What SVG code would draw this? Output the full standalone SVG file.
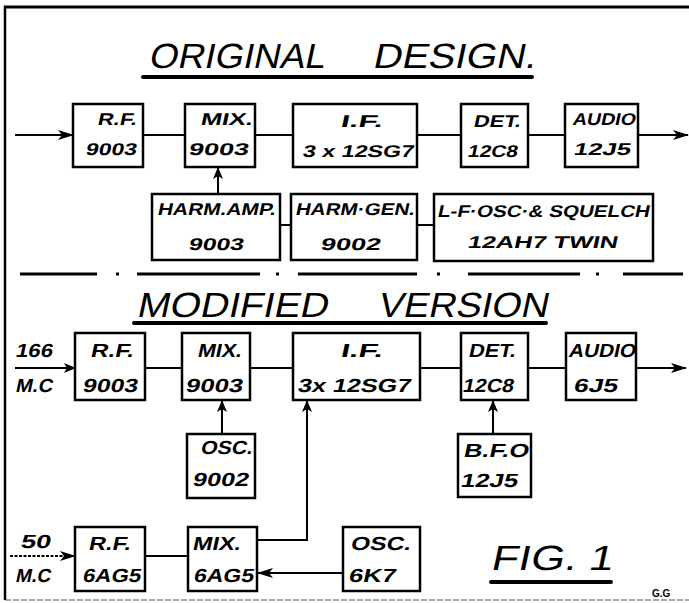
<svg xmlns="http://www.w3.org/2000/svg" width="689" height="603" viewBox="0 0 689 603">
<defs>
<marker id="ah" viewBox="0 0 16 10" refX="15" refY="5" markerWidth="16" markerHeight="10" markerUnits="userSpaceOnUse" orient="auto">
<path d="M0,0 L16,5 L0,10 L4,5 Z" fill="#000"/>
</marker>
<marker id="ahs" viewBox="0 0 12 10" refX="11" refY="5" markerWidth="12" markerHeight="10" markerUnits="userSpaceOnUse" orient="auto">
<path d="M0,0 L12,5 L0,10 L3,5 Z" fill="#000"/>
</marker>
<style>
.box{fill:#fff;stroke:#000;stroke-width:2.5}
.t{font-family:"Liberation Sans",Arial,sans-serif;font-weight:bold;font-size:17px;fill:#000}
.m{font-size:19px}
.title{font-family:"Liberation Sans",Arial,sans-serif;font-size:35px;fill:#000}
.c{fill:none;stroke:#000;stroke-width:2}
.a{marker-end:url(#ah)}
.as{marker-end:url(#ahs)}
.ul{stroke:#000;stroke-width:4;stroke-linecap:round}
.dd{stroke:#000;stroke-width:3}
</style>
</defs>
<rect x="0" y="0" width="689" height="603" fill="#fff"/>
<g id="frame">
<line x1="4" y1="7" x2="689" y2="7" stroke="#000" stroke-width="3"/>
<line x1="5" y1="6" x2="5" y2="600" stroke="#000" stroke-width="2.5"/>
<line x1="5" y1="600" x2="689" y2="600" stroke="#555" stroke-width="1.2" stroke-dasharray="6,2"/>
</g>
<g id="title1">
<text class="title" transform="translate(148 68) skewX(-12)" textLength="176" lengthAdjust="spacingAndGlyphs">ORIGINAL</text>
<text class="title" transform="translate(372 68) skewX(-12)" textLength="163" lengthAdjust="spacingAndGlyphs">DESIGN.</text>
<line class="ul" x1="143" y1="77" x2="532" y2="77"/>
</g>
<g id="divider">
<line class="dd" x1="20" y1="274" x2="97" y2="274"/>
<line class="dd" x1="116" y1="274" x2="119" y2="274"/>
<line class="dd" x1="137" y1="274" x2="260" y2="274"/>
<line class="dd" x1="276" y1="274" x2="279" y2="274"/>
<line class="dd" x1="298" y1="274" x2="417" y2="274"/>
<line class="dd" x1="437" y1="274" x2="440" y2="274"/>
<line class="dd" x1="468" y1="274" x2="580" y2="274"/>
<line class="dd" x1="596" y1="274" x2="599" y2="274"/>
<line class="dd" x1="623" y1="274" x2="683" y2="274"/>
</g>
<g id="title2">
<text class="title" font-size="37" transform="translate(136 317) skewX(-12)" textLength="191" lengthAdjust="spacingAndGlyphs">MODIFIED</text>
<text class="title" font-size="37" transform="translate(377 317) skewX(-12)" textLength="170" lengthAdjust="spacingAndGlyphs">VERSION</text>
<line class="ul" x1="134" y1="323" x2="546" y2="323"/>
</g>
<g id="fig">
<text class="title" font-size="36" transform="translate(490 570) skewX(-12)" textLength="122" lengthAdjust="spacingAndGlyphs">FIG. 1</text>
<line class="ul" x1="491" y1="582" x2="611" y2="582"/>
<text x="652" y="597" font-family="Liberation Sans,Arial,sans-serif" font-weight="bold" font-size="10">G.G</text>
</g>
<g id="connectors">
<line class="c a" x1="15" y1="135" x2="73" y2="135"/>
<line class="c" x1="143" y1="135" x2="185" y2="135"/>
<line class="c" x1="255" y1="135" x2="293" y2="135"/>
<line class="c" x1="417" y1="135" x2="461" y2="135"/>
<line class="c" x1="528" y1="135" x2="565" y2="135"/>
<line class="c a" x1="638" y1="135" x2="688" y2="135"/>
<line class="c as" x1="218" y1="194" x2="218" y2="168"/>
<line class="c" x1="280" y1="225" x2="291" y2="225"/>
<line class="c" x1="417" y1="225" x2="434" y2="225"/>
<line class="c as" x1="15" y1="368" x2="75" y2="368"/>
<line class="c" x1="145" y1="368" x2="182" y2="368"/>
<line class="c" x1="250" y1="368" x2="293" y2="368"/>
<line class="c" x1="420" y1="368" x2="461" y2="368"/>
<line class="c" x1="528" y1="368" x2="566" y2="368"/>
<line class="c a" x1="636" y1="368" x2="686" y2="368"/>
<line class="c as" x1="222" y1="434" x2="222" y2="401"/>
<line class="c as" x1="493" y1="434" x2="493" y2="401"/>
<polyline class="c as" points="257,540 307,540 307,401"/>
<line class="c" x1="145" y1="556" x2="188" y2="556"/>
<line class="c a" x1="10" y1="556" x2="75" y2="556" stroke-dasharray="3,1.5"/>
<line class="c a" x1="343" y1="573" x2="258" y2="573"/>
</g>
<g id="o_rf"><rect class="box" x="73" y="104" width="70" height="63"/>
<text class="t" transform="translate(97 125) skewX(-12)" textLength="39" lengthAdjust="spacingAndGlyphs">R.F.</text>
<text class="t" transform="translate(85 155) skewX(-12)" textLength="51" lengthAdjust="spacingAndGlyphs">9003</text></g>
<g id="o_mix"><rect class="box" x="185" y="104" width="70" height="63"/>
<text class="t" transform="translate(200 125) skewX(-12)" textLength="52" lengthAdjust="spacingAndGlyphs">MIX.</text>
<text class="t" transform="translate(188 155) skewX(-12)" textLength="60" lengthAdjust="spacingAndGlyphs">9003</text></g>
<g id="o_if"><rect class="box" x="293" y="104" width="124" height="63"/>
<text class="t" transform="translate(340 127) skewX(-12)" textLength="42" lengthAdjust="spacingAndGlyphs">I.F.</text>
<text class="t" transform="translate(302 157) skewX(-12)" textLength="111" lengthAdjust="spacingAndGlyphs">3 x 12SG7</text></g>
<g id="o_det"><rect class="box" x="461" y="104" width="67" height="63"/>
<text class="t" transform="translate(473 127) skewX(-12)" textLength="47" lengthAdjust="spacingAndGlyphs">DET.</text>
<text class="t" transform="translate(467 157) skewX(-12)" textLength="50" lengthAdjust="spacingAndGlyphs">12C8</text></g>
<g id="o_audio"><rect class="box" x="565" y="104" width="73" height="63"/>
<text class="t" transform="translate(572 125) skewX(-12)" textLength="63" lengthAdjust="spacingAndGlyphs">AUDIO</text>
<text class="t" transform="translate(573 155) skewX(-12)" textLength="57" lengthAdjust="spacingAndGlyphs">12J5</text></g>
<g id="o_harmamp"><rect class="box" x="152" y="194" width="128" height="66"/>
<text class="t" transform="translate(157 215) skewX(-12)" textLength="118" lengthAdjust="spacingAndGlyphs">HARM.AMP.</text>
<text class="t" transform="translate(188 250) skewX(-12)" textLength="55" lengthAdjust="spacingAndGlyphs">9003</text></g>
<g id="o_harmgen"><rect class="box" x="291" y="194" width="126" height="66"/>
<text class="t" transform="translate(295 215) skewX(-12)" textLength="119" lengthAdjust="spacingAndGlyphs">HARM·GEN.</text>
<text class="t" transform="translate(320 250) skewX(-12)" textLength="60" lengthAdjust="spacingAndGlyphs">9002</text></g>
<g id="o_lfosc"><rect class="box" x="434" y="194" width="219" height="67"/>
<text class="t" transform="translate(437 217) skewX(-12)" textLength="212" lengthAdjust="spacingAndGlyphs">L-F·OSC·&amp; SQUELCH</text>
<text class="t" transform="translate(467 248) skewX(-12)" textLength="150" lengthAdjust="spacingAndGlyphs">12AH7  TWIN</text></g>
<g id="lbl166">
<text class="t m" transform="translate(15 357) skewX(-12)" textLength="37" lengthAdjust="spacingAndGlyphs">166</text>
<text class="t m" transform="translate(15 392) skewX(-12)" textLength="37" lengthAdjust="spacingAndGlyphs">M.C</text></g>
<g id="m_rf"><rect class="box" x="75" y="333" width="70" height="67"/>
<text class="t m" transform="translate(90 357) skewX(-12)" textLength="43" lengthAdjust="spacingAndGlyphs">R.F.</text>
<text class="t m" transform="translate(82 392) skewX(-12)" textLength="55" lengthAdjust="spacingAndGlyphs">9003</text></g>
<g id="m_mix"><rect class="box" x="182" y="333" width="68" height="67"/>
<text class="t m" transform="translate(197 357) skewX(-12)" textLength="44" lengthAdjust="spacingAndGlyphs">MIX.</text>
<text class="t m" transform="translate(185 392) skewX(-12)" textLength="57" lengthAdjust="spacingAndGlyphs">9003</text></g>
<g id="m_if"><rect class="box" x="293" y="333" width="127" height="67"/>
<text class="t m" transform="translate(340 357) skewX(-12)" textLength="42" lengthAdjust="spacingAndGlyphs">I.F.</text>
<text class="t m" transform="translate(297 392) skewX(-12)" textLength="113" lengthAdjust="spacingAndGlyphs">3x 12SG7</text></g>
<g id="m_det"><rect class="box" x="461" y="333" width="67" height="67"/>
<text class="t m" transform="translate(468 357) skewX(-12)" textLength="47" lengthAdjust="spacingAndGlyphs">DET.</text>
<text class="t m" transform="translate(462 392) skewX(-12)" textLength="51" lengthAdjust="spacingAndGlyphs">12C8</text></g>
<g id="m_audio"><rect class="box" x="566" y="333" width="70" height="67"/>
<text class="t m" transform="translate(568 357) skewX(-12)" textLength="67" lengthAdjust="spacingAndGlyphs">AUDIO</text>
<text class="t m" transform="translate(573 392) skewX(-12)" textLength="44" lengthAdjust="spacingAndGlyphs">6J5</text></g>
<g id="m_osc9002"><rect class="box" x="187" y="434" width="68" height="64"/>
<text class="t m" transform="translate(200 454) skewX(-12)" textLength="52" lengthAdjust="spacingAndGlyphs">OSC.</text>
<text class="t m" transform="translate(192 486) skewX(-12)" textLength="56" lengthAdjust="spacingAndGlyphs">9002</text></g>
<g id="m_bfo"><rect class="box" x="458" y="434" width="73" height="63"/>
<text class="t m" transform="translate(463 457) skewX(-12)" textLength="65" lengthAdjust="spacingAndGlyphs">B.F.O</text>
<text class="t m" transform="translate(460 487) skewX(-12)" textLength="57" lengthAdjust="spacingAndGlyphs">12J5</text></g>
<g id="lbl50">
<text class="t m" transform="translate(20 548) skewX(-12)" textLength="30" lengthAdjust="spacingAndGlyphs">50</text>
<text class="t m" transform="translate(15 582) skewX(-12)" textLength="35" lengthAdjust="spacingAndGlyphs">M.C</text></g>
<g id="m_rf6ag5"><rect class="box" x="75" y="527" width="70" height="64"/>
<text class="t m" transform="translate(88 550) skewX(-12)" textLength="42" lengthAdjust="spacingAndGlyphs">R.F.</text>
<text class="t m" transform="translate(82 582) skewX(-12)" textLength="58" lengthAdjust="spacingAndGlyphs">6AG5</text></g>
<g id="m_mix6ag5"><rect class="box" x="188" y="527" width="69" height="64"/>
<text class="t m" transform="translate(192 550) skewX(-12)" textLength="48" lengthAdjust="spacingAndGlyphs">MIX.</text>
<text class="t m" transform="translate(193 582) skewX(-12)" textLength="60" lengthAdjust="spacingAndGlyphs">6AG5</text></g>
<g id="m_osc6k7"><rect class="box" x="343" y="527" width="77" height="64"/>
<text class="t m" transform="translate(350 550) skewX(-12)" textLength="60" lengthAdjust="spacingAndGlyphs">OSC.</text>
<text class="t m" transform="translate(348 582) skewX(-12)" textLength="47" lengthAdjust="spacingAndGlyphs">6K7</text></g>
</svg>
